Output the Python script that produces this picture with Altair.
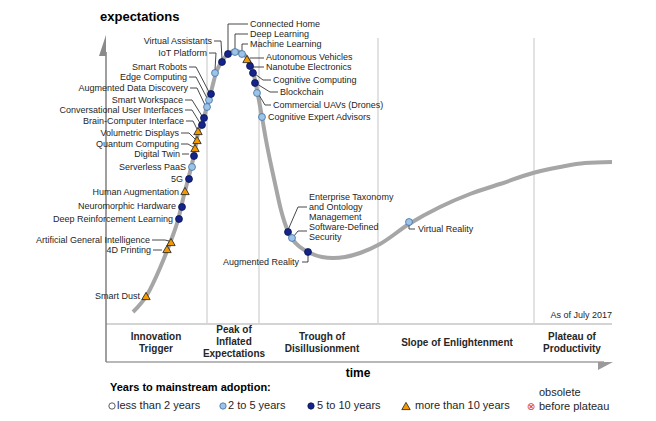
import altair as alt
import pandas as pd

# ---------------- data (chart units: time 0-506, expectations 0-332) ----------------
curve_time = [27, 41, 54, 64, 72, 78, 84, 88, 92, 97, 102, 106, 110, 116, 122, 129, 136, 142, 146,
              149, 152, 156, 160, 165, 170, 175, 181, 187, 194, 204, 216, 227, 239, 254, 274, 303,
              334, 364, 394, 427, 454, 479, 506]
curve_expect = [50, 67, 94, 119, 142, 167, 190, 207, 229, 242, 259, 274, 289, 301, 308, 311, 309, 303, 294,
                282, 267, 245, 222, 197, 174, 152, 133, 122, 115, 109, 105, 104, 105, 109, 118, 138,
                155, 168, 178, 189, 195, 199, 200]

tech_names = ["Smart Dust", "4D Printing", "Artificial General Intelligence", "Deep Reinforcement Learning",
              "Neuromorphic Hardware", "Human Augmentation", "5G", "Serverless PaaS", "Digital Twin",
              "Quantum Computing", "Volumetric Displays", "Brain-Computer Interface",
              "Conversational User Interfaces", "Smart Workspace", "Augmented Data Discovery",
              "Edge Computing", "Smart Robots", "IoT Platform", "Virtual Assistants", "Connected Home",
              "Deep Learning", "Machine Learning", "Autonomous Vehicles", "Nanotube Electronics",
              "Cognitive Computing", "Blockchain", "Commercial UAVs (Drones)", "Cognitive Expert Advisors",
              "Enterprise Taxonomy and Ontology Management", "Software-Defined Security",
              "Augmented Reality", "Virtual Reality"]
tech_time = [40, 61, 65, 73, 76, 79, 83, 86, 88, 89, 91, 92, 96, 98, 101, 103, 105, 109, 116, 122,
             129, 136, 141, 144, 147, 149, 151, 156, 182, 186, 202, 303]
tech_expect = [66, 113, 120, 143, 155, 171, 183, 195, 206, 214, 222, 231, 237, 244, 255, 262, 268, 289,
               300, 308, 310, 308, 303, 296, 289, 279, 269, 245, 130, 124, 110, 140]
tech_years = ["10+", "10+", "10+", "5-10", "5-10", "10+", "5-10", "2-5", "5-10", "10+", "10+", "10+",
              "5-10", "5-10", "2-5", "2-5", "5-10", "2-5", "5-10", "5-10", "2-5", "2-5", "10+", "5-10",
              "5-10", "5-10", "2-5", "2-5", "5-10", "2-5", "5-10", "2-5"]

# label anchors
right_labels = ["Smart Dust", "4D Printing", "Artificial General Intelligence", "Deep Reinforcement Learning",
                "Neuromorphic Hardware", "Human Augmentation", "5G", "Serverless PaaS", "Digital Twin",
                "Quantum Computing", "Volumetric Displays", "Brain-Computer Interface",
                "Conversational User Interfaces", "Smart Workspace", "Augmented Data Discovery",
                "Edge Computing", "Smart Robots", "IoT Platform", "Virtual Assistants", "Augmented Reality"]
right_t = [34, 45, 44, 67, 70, 73, 77, 80, 74, 73, 73, 78, 77, 77, 82, 81, 81, 101, 106, 193]
right_e = [66, 112, 122, 143, 156, 170, 183, 195, 208, 218, 229, 241, 252, 262, 274, 285, 295, 309, 321, 100]

left_labels = ["Connected Home", "Deep Learning", "Machine Learning", "Autonomous Vehicles",
               "Nanotube Electronics", "Cognitive Computing", "Blockchain", "Commercial UAVs (Drones)",
               "Cognitive Expert Advisors", "Enterprise Taxonomy", "and Ontology", "Management",
               "Software-Defined", "Security", "Virtual Reality"]
left_t = [144, 144, 144, 160, 160, 167, 174, 167, 162, 203, 203, 203, 203, 203, 312]
left_e = [338, 328, 318, 305, 295, 282, 270, 257, 245, 165, 155, 145, 135, 125, 133]

# leader lines (polylines)
leaders = {
    "4D Printing": [(47, 112), (56, 112)],
    "Artificial General Intelligence": [(46, 122), (59, 122), (63, 121)],
    "Digital Twin": [(76, 208), (83, 208)],
    "Quantum Computing": [(75, 218), (82, 218), (87, 215)],
    "Volumetric Displays": [(75, 229), (83, 229), (89, 223)],
    "Brain-Computer Interface": [(80, 241), (87, 241), (91, 233)],
    "Conversational User Interfaces": [(79, 252), (86, 252), (94, 239)],
    "Smart Workspace": [(79, 262), (86, 262), (96, 246)],
    "Augmented Data Discovery": [(84, 274), (91, 274), (99, 257)],
    "Edge Computing": [(83, 285), (90, 285), (101, 264)],
    "Smart Robots": [(83, 295), (90, 295), (103, 270)],
    "IoT Platform": [(103, 309), (110, 309), (109, 292)],
    "Virtual Assistants": [(108, 321), (115, 321), (116, 303)],
    "Connected Home": [(142, 338), (122, 338), (122, 311)],
    "Deep Learning": [(142, 328), (129, 328), (129, 313)],
    "Machine Learning": [(142, 318), (136, 318), (136, 311)],
    "Autonomous Vehicles": [(158, 304), (144, 304)],
    "Nanotube Electronics": [(158, 295), (147, 295)],
    "Cognitive Computing": [(165, 282), (157, 282), (149, 288)],
    "Blockchain": [(172, 270), (164, 270), (151, 278)],
    "Commercial UAVs (Drones)": [(165, 257), (159, 257), (153, 267)],
    "Enterprise Taxonomy": [(182, 132), (192, 155), (201, 155)],
    "Software-Defined Security": [(188, 126), (192, 131), (201, 131)],
    "Augmented Reality": [(196, 100), (202, 100), (202, 108)],
    "Virtual Reality": [(303, 138), (303, 133), (309, 133)],
}

phase_bounds = [101, 153, 272, 428]
phase_lines = ["Innovation", "Trigger", "Peak of", "Inflated", "Expectations", "Trough of",
               "Disillusionment", "Slope of Enlightenment", "Plateau of", "Productivity"]
phase_t = [50, 50, 128, 128, 128, 216, 216, 351, 466, 466]
phase_e = [25, 13, 32, 20, 8, 25, 13, 19, 25, 13]

legend_labels = ["less than 2 years", "2 to 5 years", "5 to 10 years", "more than 10 years"]
legend_cats = ["<2", "2-5", "5-10", "10+"]
legend_marker_t = [6, 117, 205, 300]
legend_text_t = [11, 122, 211, 309]

# ---------------- build ----------------
W, H = 506, 332
xs = alt.Scale(domain=[0, W], nice=False, zero=False)
ys = alt.Scale(domain=[0, H], nice=False, zero=False)
FONT = "Liberation Sans"
TXT = "#262626"


def X(f="t"):
    return alt.X(f"{f}:Q", scale=xs, axis=None)


def Y(f="e"):
    return alt.Y(f"{f}:Q", scale=ys, axis=None)


cat_domain = ["<2", "2-5", "5-10"]
cat_fill = ["#ffffff", "#9dc3e6", "#14248a"]
cat_stroke = ["#333333", "#3b6ea8", "#0a1450"]

# frame lines
phase_df = pd.DataFrame({"t": phase_bounds, "t2": phase_bounds, "e": [38] * 4, "e2": [324] * 4})
phase_rules = alt.Chart(phase_df).mark_rule(color="#d9d9d9", strokeWidth=1.5).encode(
    x=X(), x2="t2:Q", y=Y(), y2="e2:Q")
hline_df = pd.DataFrame({"t": [0], "t2": [W], "e": [38], "e2": [38]})
hline = alt.Chart(hline_df).mark_rule(color="#d4d4d4", strokeWidth=2).encode(
    x=X(), x2="t2:Q", y=Y(), y2="e2:Q")
bline_df = pd.DataFrame({"t": [0], "t2": [W - 8], "e": [0], "e2": [0]})
bline = alt.Chart(bline_df).mark_rule(color="#b8b8b8", strokeWidth=2).encode(
    x=X(), x2="t2:Q", y=Y(), y2="e2:Q")
yaxis_df = pd.DataFrame({"t": [0], "t2": [0], "e": [0], "e2": [310]})
yaxis = alt.Chart(yaxis_df).mark_rule(color="#7f7f7f", strokeWidth=1.5).encode(
    x=X(), x2="t2:Q", y=Y(), y2="e2:Q")

xarrow_df = pd.DataFrame({"t": [492, 507], "e": [-8, 0], "e2": [0, 0]})
xarrow = alt.Chart(xarrow_df).mark_area(color="#9a9a9a").encode(x=X(), y=Y(), y2="e2:Q")
yarrow_df = pd.DataFrame({"e": [306, 327], "t": [-7, 0], "t2": [0, 0]})
yarrow = alt.Chart(yarrow_df).mark_area(color="#8a8a8a", orient="horizontal").encode(
    y=Y(), x=X(), x2="t2:Q")

# curve
curve_df = pd.DataFrame({"t": curve_time, "e": curve_expect})
curve = alt.Chart(curve_df).mark_line(color="#a6a6a6", strokeWidth=4, interpolate="monotone").encode(
    x=X(), y=Y())

# leaders
rows = []
for name, pts in leaders.items():
    for i, (t, e) in enumerate(pts):
        rows.append({"name": name, "seq": i, "t": t, "e": e})
lead_df = pd.DataFrame(rows)
lead = alt.Chart(lead_df).mark_line(color="#333333", strokeWidth=0.9).encode(
    x=X(), y=Y(), detail="name:N", order="seq:Q")

# markers
tech_df = pd.DataFrame({"name": tech_names, "t": tech_time, "e": tech_expect, "cat": tech_years})
circles = alt.Chart(tech_df).transform_filter(alt.datum.cat != "10+").mark_point(
    filled=True, size=48, strokeWidth=0.8, opacity=1).encode(
    x=X(), y=Y(),
    fill=alt.Fill("cat:N", scale=alt.Scale(domain=cat_domain, range=cat_fill), legend=None),
    stroke=alt.Stroke("cat:N", scale=alt.Scale(domain=cat_domain, range=cat_stroke), legend=None))
tris = alt.Chart(tech_df).transform_filter(alt.datum.cat == "10+").mark_point(
    shape="triangle-up", filled=True, size=70, fill="#f29a00", stroke="#1a1a1a", strokeWidth=0.8,
    opacity=1).encode(x=X(), y=Y())

# labels
rl_df = pd.DataFrame({"label": right_labels, "t": right_t, "e": right_e})
rl = alt.Chart(rl_df).mark_text(align="right", baseline="middle", font=FONT, fontSize=9, color=TXT).encode(
    x=X(), y=Y(), text="label:N")
ll_df = pd.DataFrame({"label": left_labels, "t": left_t, "e": left_e})
ll = alt.Chart(ll_df).mark_text(align="left", baseline="middle", font=FONT, fontSize=9, color=TXT).encode(
    x=X(), y=Y(), text="label:N")

ph_df = pd.DataFrame({"label": phase_lines, "t": phase_t, "e": phase_e})
ph = alt.Chart(ph_df).mark_text(align="center", baseline="middle", font=FONT, fontSize=10,
                                fontWeight="bold", color=TXT).encode(x=X(), y=Y(), text="label:N")

misc_df = pd.DataFrame({"label": ["time"], "t": [252], "e": [-11]})
misc = alt.Chart(misc_df).mark_text(align="center", baseline="middle", font=FONT, fontSize=12,
                                    fontWeight="bold", color="#000000").encode(x=X(), y=Y(), text="label:N")
exp_df = pd.DataFrame({"label": ["expectations"], "t": [-6], "e": [345]})
exp = alt.Chart(exp_df).mark_text(align="left", baseline="middle", font=FONT, fontSize=13,
                                  fontWeight="bold", color="#000000").encode(x=X(), y=Y(), text="label:N")
asof_df = pd.DataFrame({"label": ["As of July 2017"], "t": [W], "e": [47]})
asof = alt.Chart(asof_df).mark_text(align="right", baseline="middle", font=FONT, fontSize=9,
                                    color=TXT).encode(x=X(), y=Y(), text="label:N")

# legend
lt_df = pd.DataFrame({"label": ["Years to mainstream adoption:"], "t": [4], "e": [-26]})
lt = alt.Chart(lt_df).mark_text(align="left", baseline="middle", font=FONT, fontSize=11,
                                fontWeight="bold", color="#000000").encode(x=X(), y=Y(), text="label:N")
leg_df = pd.DataFrame({"label": legend_labels, "cat": legend_cats, "t": legend_marker_t,
                       "tt": legend_text_t, "e": [-44] * 4})
leg_txt = alt.Chart(leg_df).mark_text(align="left", baseline="middle", font=FONT, fontSize=11,
                                      color=TXT).encode(x=X("tt"), y=Y(), text="label:N")
leg_c = alt.Chart(leg_df).transform_filter(alt.datum.cat != "10+").mark_point(
    filled=True, size=40, strokeWidth=0.8, opacity=1).encode(
    x=X(), y=Y(),
    fill=alt.Fill("cat:N", scale=alt.Scale(domain=cat_domain, range=cat_fill), legend=None),
    stroke=alt.Stroke("cat:N", scale=alt.Scale(domain=cat_domain, range=cat_stroke), legend=None))
leg_t = alt.Chart(leg_df).transform_filter(alt.datum.cat == "10+").mark_point(
    shape="triangle-up", filled=True, size=70, fill="#f29a00", stroke="#1a1a1a", strokeWidth=0.8,
    opacity=1).encode(x=X(), y=Y())
obs_df = pd.DataFrame({"label": ["obsolete", "before plateau"], "t": [433, 433], "e": [-31, -45]})
obs = alt.Chart(obs_df).mark_text(align="left", baseline="middle", font=FONT, fontSize=11,
                                  color=TXT).encode(x=X(), y=Y(), text="label:N")
obs_sym_df = pd.DataFrame({"label": ["⊗"], "t": [425], "e": [-45]})
obs_sym = alt.Chart(obs_sym_df).mark_text(align="center", baseline="middle", font="DejaVu Sans",
                                          fontSize=10, color="#e0313a").encode(x=X(), y=Y(), text="label:N")

chart = alt.layer(
    phase_rules, hline, bline, yaxis, xarrow, yarrow, curve, lead, circles, tris, rl, ll, ph, misc,
    exp, asof, lt, leg_txt, leg_c, leg_t, obs, obs_sym
).properties(
    width=W, height=H,
    autosize=alt.AutoSizeParams(type="none"),
    padding={"left": 98, "top": 22, "right": 36, "bottom": 59},
    background="white",
).configure_view(stroke=None)

chart.save("out.html", embed_options={"renderer": "svg", "actions": False})
